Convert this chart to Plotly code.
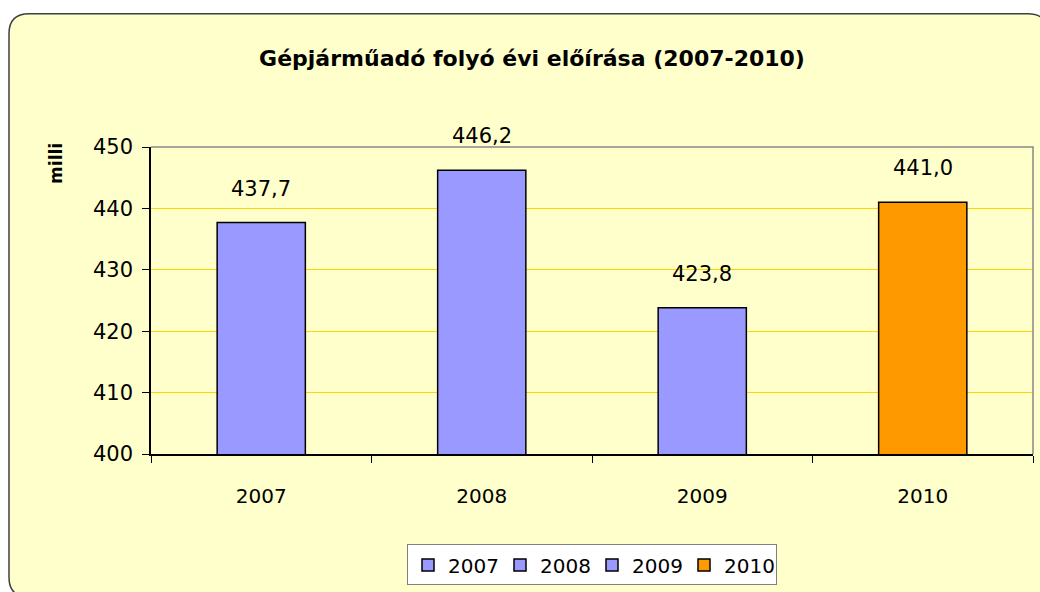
import plotly.graph_objects as go

years = ["2007", "2008", "2009", "2010"]
values = [437.7, 446.2, 423.8, 441.0]
colors = ["#9999FF", "#9999FF", "#9999FF", "#FF9900"]
title_text = "Gépjárműadó folyó évi előírása (2007-2010)"
y_title = "milli"

FONT = "Comic Sans MS, DejaVu Sans, sans-serif"

FW, FH = 1040, 592

fig = go.Figure()
for yr, v, c in zip(years, values, colors):
    fig.add_trace(go.Bar(
        x=[yr], y=[v], name=yr,
        marker=dict(color=c, line=dict(color="black", width=1.5)),
        hoverinfo="skip",
    ))

for i, v in enumerate(values):
    fig.add_annotation(x=i, y=v, text=f"{v:.1f}".replace(".", ","),
                       showarrow=False, yshift=34, yanchor="middle",
                       font=dict(family=FONT, size=21, color="black"))

# geometry of plot area in page pixels
L, W, B, H = 151, 882, 456, 309
def X(px):
    return (px - L) / W
def Y(py):
    return (B - py) / H

bx0, bx1, by0, by1, r = 9, 1048, 13, 600, 20
path = (f"M{X(bx0 + r)},{Y(by0)} L{X(bx1 - r)},{Y(by0)} "
        f"Q{X(bx1)},{Y(by0)} {X(bx1)},{Y(by0 + r)} "
        f"L{X(bx1)},{Y(by1 - r)} Q{X(bx1)},{Y(by1)} {X(bx1 - r)},{Y(by1)} "
        f"L{X(bx0 + r)},{Y(by1)} Q{X(bx0)},{Y(by1)} {X(bx0)},{Y(by1 - r)} "
        f"L{X(bx0)},{Y(by0 + r)} Q{X(bx0)},{Y(by0)} {X(bx0 + r)},{Y(by0)} Z")

fig.add_shape(type="path", path=path, xref="paper", yref="paper",
              line=dict(color="#404040", width=1.5), fillcolor="#FFFFCC",
              layer="below")
fig.add_shape(type="path", path="M0,1 L1,1 L1,0", xref="paper", yref="paper",
              line=dict(color="#888888", width=1.5), layer="above")

fig.add_annotation(x=X(56), y=Y(164), xref="paper", yref="paper",
                   xanchor="center", yanchor="middle",
                   text=f"<b>{y_title}</b>", textangle=-90, showarrow=False,
                   font=dict(family=FONT, size=17, color="black"))

fig.update_layout(
    width=FW, height=FH,
    margin=dict(l=L, r=FW - L - W, t=B - H, b=FH - B),
    paper_bgcolor="white", plot_bgcolor="#FFFFCC",
    barmode="overlay", bargap=0.6,
    title=dict(text=f"<b>{title_text}</b>", x=532 / FW, xanchor="center",
               y=1 - 58 / FH, yanchor="middle",
               font=dict(family=FONT, size=22, color="black")),
    font=dict(family=FONT, size=21, color="black"),
    showlegend=True,
    legend=dict(orientation="h", x=X(592), xanchor="center", y=Y(547), yanchor="top",
                bgcolor="white", bordercolor="#808080", borderwidth=1,
                entrywidth=47, entrywidthmode="pixels",
                font=dict(family=FONT, size=20, color="black"),
                traceorder="normal"),
    xaxis=dict(type="category", range=[-0.5, len(years) - 0.5],
               showline=True, linecolor="black", linewidth=1.5,
               ticks="outside", tickson="boundaries", ticklen=7, tickcolor="black",
               ticklabelstandoff=23, showgrid=False,
               tickfont=dict(family=FONT, size=20, color="black")),
    yaxis=dict(range=[400, 450], dtick=10, showline=True, linecolor="black",
               linewidth=1.5, ticks="outside", ticklen=7, tickcolor="black",
               ticklabelstandoff=5, showgrid=True, gridcolor="#FFD700",
               gridwidth=1, zeroline=False,
               tickfont=dict(family=FONT, size=21, color="black")),
)

fig.write_html("out.html",
               config={"displayModeBar": False},
               post_script="document.body.style.margin='0';"
                           "document.body.style.overflow='hidden';")
